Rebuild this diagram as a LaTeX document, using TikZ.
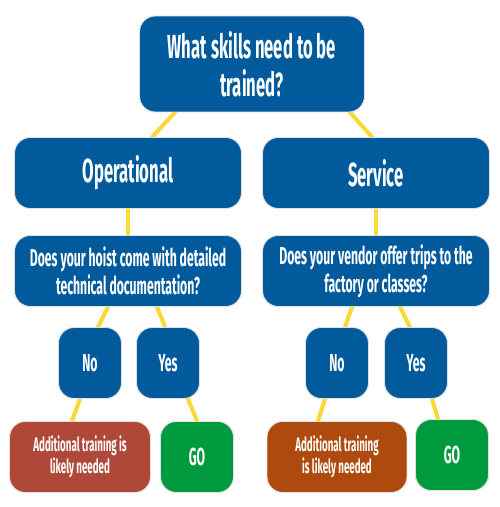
\documentclass[tikz,border=0pt]{standalone}
\usepackage{fontspec}
\setmainfont[FakeStretch=0.5]{Fira Sans}
\usetikzlibrary{calc,backgrounds}

\definecolor{boxblue}{RGB}{0,90,156}
\definecolor{boxred}{RGB}{176,72,58}
\definecolor{boxorange}{RGB}{174,74,14}
\definecolor{boxgreen}{RGB}{0,154,62}
\definecolor{linkyellow}{RGB}{252,216,52}

\begin{document}
\begin{tikzpicture}[x=0.02cm,y=-0.02cm,
    box/.style={draw=black!12, line width=0.5pt, rounded corners=9pt,
        text=white, align=center, inner sep=0pt, font=\bfseries},
    link/.style={line width=2.3pt, draw=linkyellow, shorten <=-6pt, shorten >=-6pt}]
    \useasboundingbox (0,0) rectangle (500,507);

    % Top question
    \node[box, fill=boxblue, minimum width=4.5cm, minimum height=1.92cm,
        font=\bfseries\fontsize{19}{21.5}\selectfont] (top) at (252,64)
        {What skills need to be\\trained?};

    % The two branches
    \node[box, fill=boxblue, minimum width=4.54cm, minimum height=1.42cm,
        font=\bfseries\fontsize{19}{22}\selectfont] (oper) at (128,173) {Operational};
    \node[box, fill=boxblue, minimum width=4.54cm, minimum height=1.42cm,
        font=\bfseries\fontsize{19}{22}\selectfont] (serv) at (376,173) {Service};

    % Follow-up questions
    \node[box, fill=boxblue, minimum width=4.54cm, minimum height=1.42cm,
        font=\bfseries\fontsize{13.9}{15.9}\selectfont] (operq) at (128,271)
        {Does your hoist come with detailed\\technical documentation?};
    \node[box, fill=boxblue, minimum width=4.54cm, minimum height=1.42cm,
        font=\bfseries\fontsize{13.9}{15.9}\selectfont] (servq) at (376,271)
        {Does your vendor offer trips to the\\factory or classes?};

    % Answers
    \node[box, fill=boxblue, minimum width=1.26cm, minimum height=1.42cm,
        font=\bfseries\fontsize{14}{15}\selectfont] (operno) at (90,363) {No};
    \node[box, fill=boxblue, minimum width=1.26cm, minimum height=1.42cm,
        font=\bfseries\fontsize{14}{15}\selectfont] (operyes) at (168,363) {Yes};
    \node[box, fill=boxblue, minimum width=1.26cm, minimum height=1.42cm,
        font=\bfseries\fontsize{14}{15}\selectfont] (servno) at (337,363) {No};
    \node[box, fill=boxblue, minimum width=1.26cm, minimum height=1.42cm,
        font=\bfseries\fontsize{14}{15}\selectfont] (servyes) at (416,363) {Yes};

    % Outcomes
    \node[box, fill=boxred, minimum width=2.82cm, minimum height=1.42cm,
        font=\bfseries\fontsize{11.1}{12.5}\selectfont] (opertrain) at (80,457)
        {Additional training is\\likely needed};
    \node[box, fill=boxgreen, minimum width=1.46cm, minimum height=1.42cm,
        font=\bfseries\fontsize{14}{15}\selectfont] (opergo) at (197,457) {GO};
    \node[box, fill=boxorange, minimum width=2.8cm, minimum height=1.42cm,
        font=\bfseries\fontsize{11.1}{12.5}\selectfont] (servtrain) at (337,457)
        {Additional training\\is likely needed};
    \node[box, fill=boxgreen, minimum width=1.46cm, minimum height=1.42cm,
        font=\bfseries\fontsize{14}{15}\selectfont] (servgo) at (452,455) {GO};

    % Yellow connectors behind the boxes
    \begin{scope}[on background layer]
        \draw[link] ($(top.south)+(-77,0)$) -- ($(oper.north)+(24,0)$);
        \draw[link] ($(top.south)+(98,0)$) -- ($(serv.north)+(-4,0)$);
        \draw[link] (oper.south) -- (operq.north);
        \draw[link] (serv.south) -- (servq.north);
        \draw[link] ($(operq.south)+(-20,0)$) -- ($(operno.north)+(8,0)$);
        \draw[link] ($(operq.south)+(29,0)$) -- ($(operyes.north)+(-3,0)$);
        \draw[link] ($(servq.south)+(-24,0)$) -- ($(servno.north)+(8,0)$);
        \draw[link] ($(servq.south)+(24,0)$) -- ($(servyes.north)+(-6,0)$);
        \draw[link] ($(operno.south)+(-10,0)$) -- ($(opertrain.north)+(-8,0)$);
        \draw[link] ($(operyes.south)+(20,0)$) -- (opergo.north);
        \draw[link] ($(servno.south)+(-12,0)$) -- ($(servtrain.north)+(-19,0)$);
        \draw[link] ($(servyes.south)+(16,0)$) -- ($(servgo.north)+(-14,0)$);
    \end{scope}

\end{tikzpicture}
\end{document}
